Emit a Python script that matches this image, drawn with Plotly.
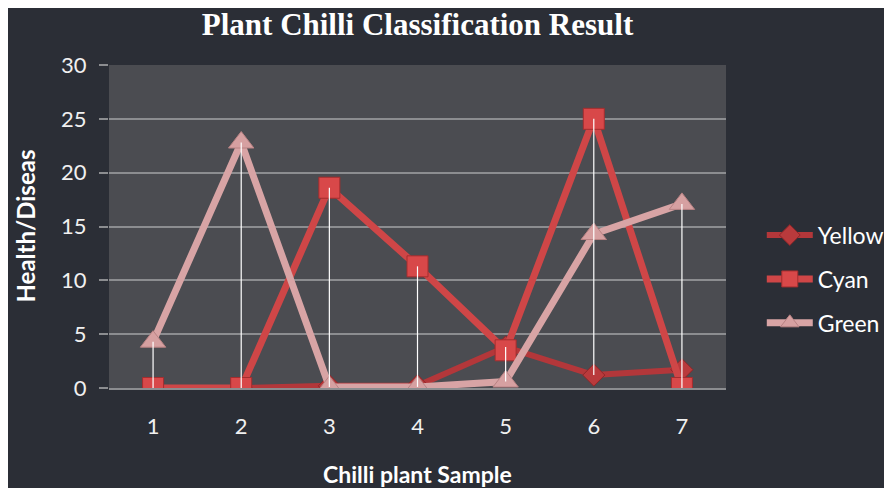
import plotly.graph_objects as go

categories = [1, 2, 3, 4, 5, 6, 7]
yellow = [0, 0, 0.2, 0.2, 3.8, 1.2, 1.7]
cyan = [0, 0, 18.6, 11.3, 3.5, 25, 0]
green = [4.3, 22.8, 0.1, 0.1, 0.6, 14.3, 17.1]
y_ticks = [0, 5, 10, 15, 20, 25, 30]

# the page body adds an 8px white margin; the figure fills the rest of the window
W, H = 884, 480
L, R, T, B = 101, 166, 57, 100
PW, PH = W - L - R, H - T - B

fig = go.Figure()

fig.add_trace(go.Scatter(
    x=categories, y=yellow, name="Yellow", mode="lines+markers", legendgroup="a",
    line=dict(color="#b3373a", width=6),
    marker=dict(symbol="diamond", size=17, color="#b93a3c", line=dict(color="#8e2628", width=1)),
))
fig.add_trace(go.Scatter(
    x=categories, y=cyan, name="Cyan", mode="lines+markers", legendgroup="b",
    line=dict(color="#cf4647", width=7),
    marker=dict(symbol="square", size=21, color="#d84849", line=dict(color="#a52d2e", width=1)),
))
fig.add_trace(go.Scatter(
    x=categories, y=green, name="Green", mode="lines+markers", legendgroup="c",
    line=dict(color="#d8a4a5", width=7),
    marker=dict(symbol="triangle-up", size=22, color="#d6a0a1", line=dict(color="#b88283", width=1)),
))

# high-low lines computed from the series
hx, hy = [], []
for i, c in enumerate(categories):
    vals = [yellow[i], cyan[i], green[i]]
    hx += [c, c, None]
    hy += [min(vals), max(vals), None]
fig.add_trace(go.Scatter(x=hx, y=hy, mode="lines", showlegend=False, hoverinfo="skip",
                         line=dict(color="#ffffff", width=1.2)))

fig.update_layout(
    width=W, height=H,
    margin=dict(l=L, r=R, t=T, b=B, autoexpand=False),
    paper_bgcolor="#2b2e36",
    plot_bgcolor="#4b4c51",
    title=dict(text="<b>Plant Chilli Classification Result</b>", x=0.5, xref="paper",
               xanchor="center", y=1 - 16 / H, yanchor="middle",
               font=dict(family="Liberation Serif", size=31, color="#ffffff")),
    font=dict(family="Lato", color="#ffffff"),
    showlegend=True,
    legend=dict(x=1.058, xanchor="left", y=0.54, yanchor="top", itemwidth=46,
                font=dict(family="Lato", size=23, color="#ffffff"),
                bgcolor="rgba(0,0,0,0)", tracegroupgap=11),
    annotations=[
        dict(text="<b>Health/Diseas</b>", xref="paper", yref="paper",
             x=-(L - 17) / PW, y=0.5, xanchor="center", yanchor="middle",
             textangle=-90, showarrow=False,
             font=dict(family="Lato", size=24, color="#ffffff")),
        dict(text="<b>Chilli plant Sample</b>", xref="paper", yref="paper",
             x=0.5, y=-86 / PH, xanchor="center", yanchor="middle",
             showarrow=False, font=dict(family="Lato", size=23, color="#ffffff")),
    ],
)

fig.update_xaxes(range=[0.5, 7.5], tickvals=categories, ticktext=[str(c) for c in categories],
                 showgrid=False, zeroline=False, showline=True, linecolor="#8c8d90", linewidth=2,
                 ticks="", ticklabelstandoff=18,
                 tickfont=dict(family="Lato", size=22, color="#f0f0f0"), fixedrange=True)
fig.update_yaxes(range=[0, 30], tickvals=y_ticks, showgrid=True, gridcolor="#8c8d90", gridwidth=1.5,
                 zeroline=False, showline=False, ticks="outside", ticklen=9, tickcolor="#8c8d90",
                 tickwidth=1.5, ticklabelstandoff=8,
                 tickfont=dict(family="Lato", size=22, color="#f0f0f0"), fixedrange=True)

fig.write_html("out.html")
